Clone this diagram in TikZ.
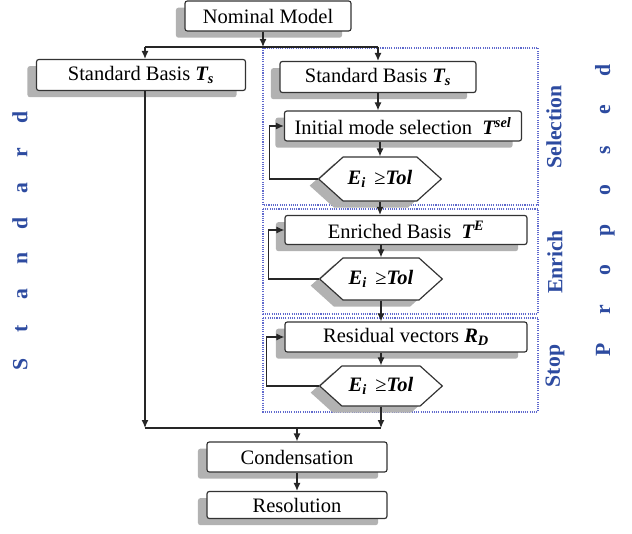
\documentclass[tikz,border=0pt]{standalone}
\usepackage{fontspec}
\setmainfont{Liberation Serif}
\usetikzlibrary{arrows.meta,shapes.symbols,shadows}

\definecolor{lblue}{RGB}{45,75,160}
\definecolor{dblue}{RGB}{95,105,205}

\newcommand{\spc}[2]{\makebox[#1]{#2}}
\newcommand{\bi}[1]{\textbf{\textit{#1}}}

\tikzset{
  proc/.style={draw=black!80, rounded corners=2pt, fill=white, line width=1pt,
    minimum height=0.9cm, inner sep=2pt, font=\fontsize{17.5}{20}\selectfont,
    drop shadow={shadow xshift=-0.27cm, shadow yshift=-0.2cm, fill=black!30, opacity=1}},
  test/.style={signal, signal to=west and east, signal pointer angle=84,
    draw=black!80, fill=white, line width=1pt, inner sep=1pt,
    font=\fontsize{17.5}{20}\selectfont, minimum width=3.68cm, minimum height=1.26cm,
    drop shadow={shadow xshift=-0.27cm, shadow yshift=-0.2cm, fill=black!30, opacity=1}},
  grp/.style={draw=dblue, densely dotted, line width=0.9pt},
  side/.style={text=lblue, font=\bfseries\fontsize{18.5}{20}\selectfont},
  flow/.style={-{Latex[length=2.4mm,width=2.1mm]}, line width=1pt, black!85}
}

\begin{document}
\begin{tikzpicture}[x=0.03cm, y=-0.03cm]
    \useasboundingbox (0,0) rectangle (632,534);

    % groups of the proposed method
    \draw[grp] (263,48) rectangle (538,205);
    \draw[grp] (263,209) rectangle (538,314);
    \draw[grp] (263,318) rectangle (538,412);
    \node[side, rotate=90] (lsel) at (554,127) {Selection};
    \node[side, rotate=90] (lenr) at (555,262) {Enrich};
    \node[side, rotate=90] (lstop) at (555,366) {Stop};

    \node[side, rotate=90] (lstd) at (20,241)
        {\spc{1.06cm}{S}\spc{1.06cm}{t}\spc{1.06cm}{a}\spc{1.06cm}{n}\spc{1.06cm}{d}\spc{1.06cm}{a}\spc{1.06cm}{r}\spc{1.06cm}{d}};
    \node[side, rotate=90] (lprop) at (605,210)
        {\spc{1.2cm}{P}\spc{1.2cm}{r}\spc{1.2cm}{o}\spc{1.2cm}{p}\spc{1.2cm}{o}\spc{1.2cm}{s}\spc{1.2cm}{e}\spc{1.2cm}{d}};

    % boxes
    \node[proc, minimum width=4.98cm] (nom) at (268,16) {Nominal Model};
    \node[proc, minimum width=6.27cm, minimum height=0.93cm] (lsb) at (141,75) {Standard Basis \bi{T\textsubscript{s}}};
    \node[proc, minimum width=5.88cm, minimum height=0.93cm] (rsb) at (378,77) {Standard Basis \bi{T\textsubscript{s}}};
    \node[proc, minimum width=7.11cm] (init) at (403,126) {Initial mode selection \ \bi{T\textsuperscript{sel}}};
    \node[test, minimum height=1.32cm] (h1) at (380,179) {\bi{E\textsubscript{i}} \,≥\bi{Tol}};
    \node[proc, minimum width=7.26cm, minimum height=0.87cm] (enr) at (406,230) {Enriched Basis \ \bi{T\textsuperscript{E}}};
    \node[test] (h2) at (381,279) {\bi{E\textsubscript{i}} \,≥\bi{Tol}};
    \node[proc, minimum width=7.26cm] (resv) at (406,337) {Residual vectors \bi{R\textsubscript{D}}};
    \node[test, minimum height=1.2cm] (h3) at (381,386) {\bi{E\textsubscript{i}} \,≥\bi{Tol}};
    \node[proc, minimum width=5.4cm] (cond) at (297,457) {Condensation};
    \node[proc, minimum width=5.4cm, minimum height=0.81cm] (reso) at (297,505) {Resolution};

    \coordinate (sl) at (145,47);
    \coordinate (sr) at (378,47);
    \coordinate (jl) at (145,428);
    \coordinate (jr) at (381,428);

    % connectors
    \draw[flow] (nom.south -| 263,0) -- (263,47);
    \draw[line width=1pt, black!85] (sl) -- (sr);
    \draw[flow] (sl) -- (sl |- lsb.north);
    \draw[flow] (sr) -- (rsb.north);
    \draw[flow] (sl |- lsb.south) -- (jl);
    \draw[line width=1pt, black!85] (jl) -- (jr);

    \draw[flow] (rsb.south) -- (rsb.south |- init.north);
    \draw[flow] (init.south -| h1) -- (h1.north);
    \draw[flow] (h1.west) -- ++(-48,0) |- (init.west);
    \draw[flow] (h1.south) -- (h1.south |- enr.north);
    \draw[flow] (enr.south -| h2) -- (h2.north);
    \draw[flow] (h2.west) -- ++(-50,0) |- (enr.west);
    \draw[flow] (h2.south) -- (h2.south |- resv.north);
    \draw[flow] (resv.south -| h3) -- (h3.north);
    \draw[flow] (h3.west) -- ++(-52,0) |- (resv.west);
    \draw[flow] (h3.south) -- (jr);

    \draw[flow] (jl -| cond.north) -- (cond.north);
    \draw[flow] (cond) -- (reso);
\end{tikzpicture}
\end{document}
